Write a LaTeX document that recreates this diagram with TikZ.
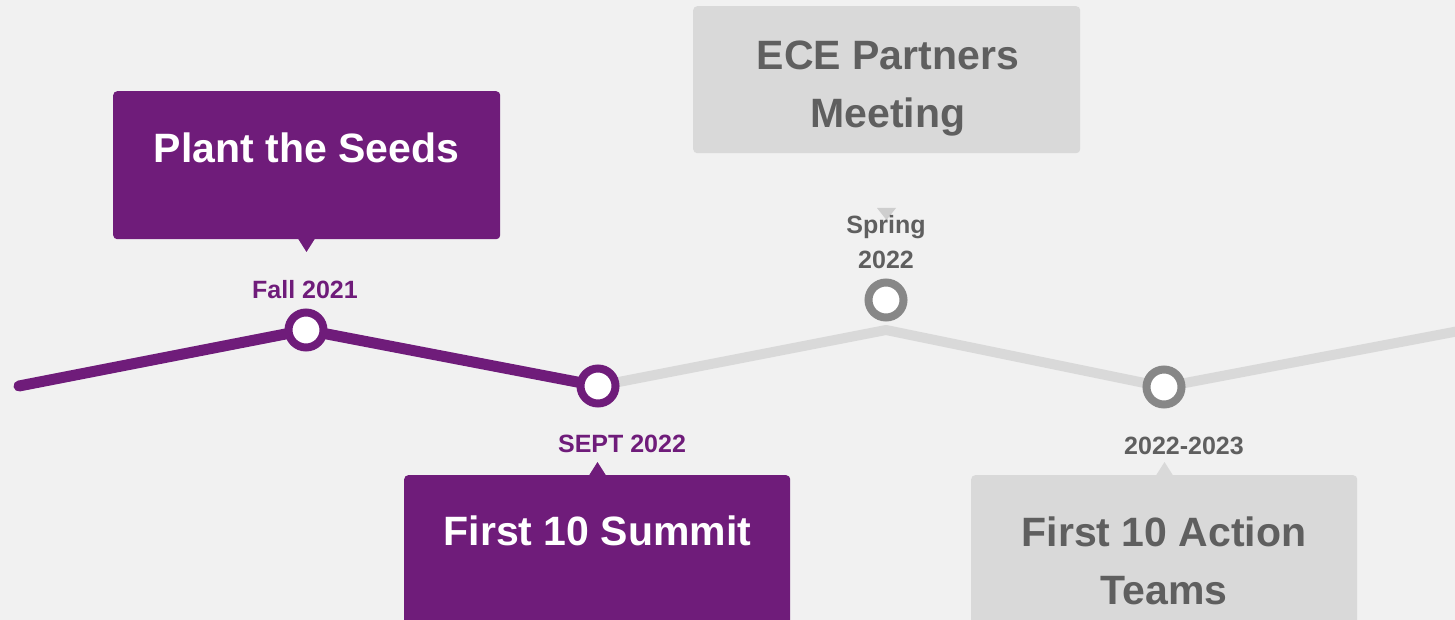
\documentclass[tikz,border=0pt]{standalone}
\usepackage{fontspec}
\setmainfont{Liberation Sans}
\definecolor{purp}{HTML}{6F1C7A}
\definecolor{bg}{HTML}{F1F1F1}
\definecolor{boxgray}{HTML}{D9D9D9}
\definecolor{txtgray}{HTML}{5F5F5F}
\definecolor{ringgray}{HTML}{878787}
\definecolor{linegray}{HTML}{D9D9D9}
\begin{document}
\begin{tikzpicture}[x=1pt,y=-1pt,
  boxbase/.style={rectangle, rounded corners=4pt, inner sep=0pt, anchor=north west},
  purplebox/.style={boxbase, fill=purp},
  graybox/.style={boxbase, fill=boxgray},
  bigtext/.style={inner sep=0pt, anchor=base, align=center, font=\fontsize{41}{58}\selectfont\bfseries},
  lbltext/.style={inner sep=0pt, anchor=base, align=center, font=\fontsize{25}{35}\selectfont\bfseries},
  ringbase/.style={circle, fill=white, line width=8pt, minimum size=35pt, inner sep=0pt},
  purpring/.style={ringbase, draw=purp},
  grayring/.style={ringbase, draw=ringgray},
  purpline/.style={draw=purp, line width=11pt, line cap=round, line join=round},
  grayline/.style={draw=linegray, line width=10pt, line cap=round, line join=round}
]
\useasboundingbox (0,0) rectangle (1455,620);
\fill[bg] (0,0) rectangle (1455,620);
\clip (0,0) rectangle (1455,620);

% coordinates of the timeline
\coordinate (start) at (19,386);
\coordinate (fallc) at (306,330);
\coordinate (septc) at (598,386);
\coordinate (peak) at (886,330);
\coordinate (springc) at (886,300);
\coordinate (actc) at (1164,387);
\coordinate (endr) at (1480,327);

% lines
\draw[grayline] (septc) -- (peak) -- (actc) -- (endr);
\draw[purpline] (start) -- (fallc) -- (septc);

% rings
\node[purpring] (fall) at (fallc) {};
\node[purpring] (sept) at (septc) {};
\node[grayring] (spring) at (springc) {};
\node[grayring] (act) at (actc) {};

% boxes
\node[purplebox, minimum width=387pt, minimum height=148pt] (seedsbox) at (113,91) {};
\fill[purp] (297,237) -- (306.5,252) -- (316,237) -- cycle;
\node[graybox, minimum width=387pt, minimum height=147pt] (ecebox) at (693,6) {};
\node[purplebox, minimum width=386pt, minimum height=170pt] (summitbox) at (404,475) {};
\fill[purp] (588,477) -- (597.5,462) -- (607,477) -- cycle;
\node[graybox, minimum width=386pt, minimum height=170pt] (actbox) at (971,475) {};
\fill[boxgray] (1155,477) -- (1164.5,462) -- (1174,477) -- cycle;
\fill[boxgray!95!black] (877,208) -- (886.5,220) -- (896,208) -- cycle;

% box texts (multi-line nodes: base is at the last line)
\node[bigtext, text=white] (seedstxt) at (306.5,163) {Plant the Seeds};
\node[bigtext, text=txtgray] (ecetxt) at (888,128) {ECE Partners\\Meeting};
\node[bigtext, text=white] (summittxt) at (597.5,545) {First 10 Summit};
\node[bigtext, text=txtgray] (acttxt) at (1164,604) {First 10 Action\\Teams};

% date labels
\node[lbltext, text=purp] (falllbl) at (305,298) {Fall 2021};
\node[lbltext, text=txtgray] (springlbl) at (886,268) {Spring\\2022};
\node[lbltext, text=purp] (septlbl) at (622,452) {SEPT 2022};
\node[lbltext, text=txtgray] (actlbl) at (1184,454) {2022-2023};
\end{tikzpicture}
\end{document}
